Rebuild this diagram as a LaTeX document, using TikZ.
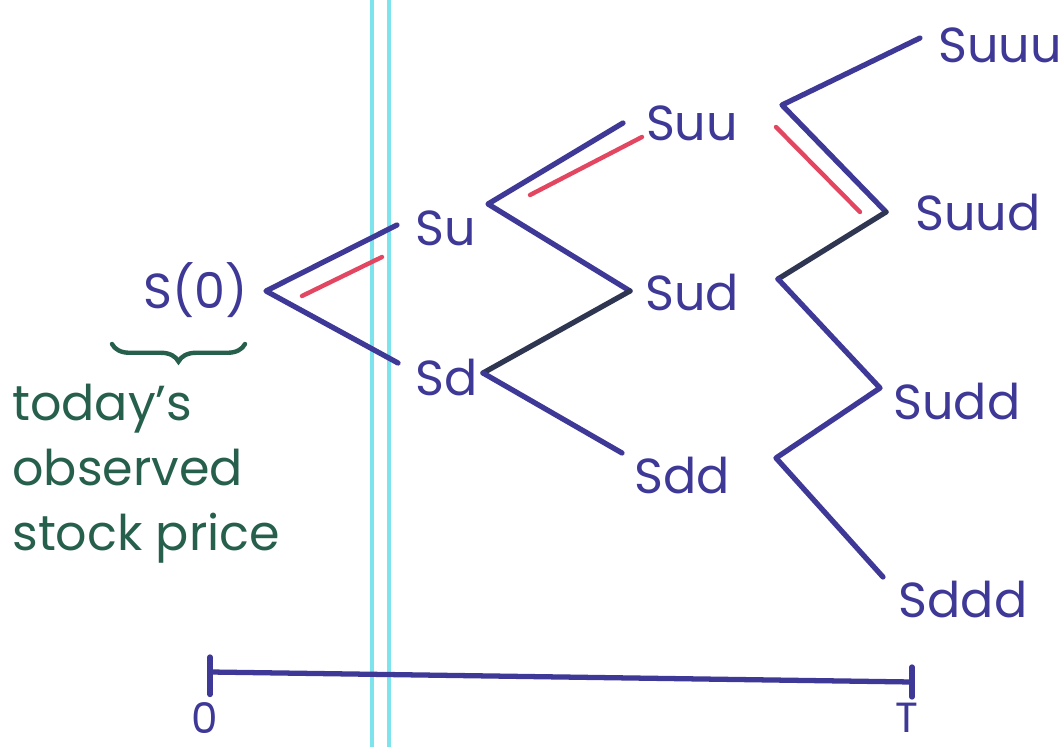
\documentclass[tikz,border=0pt]{standalone}
\usepackage{fontspec}
\setmainfont{Poppins}
\usepackage{xcolor}
\usetikzlibrary{positioning,decorations.pathreplacing}
\definecolor{ink}{RGB}{62,56,150}
\definecolor{inkdark}{RGB}{46,54,82}
\definecolor{marker}{RGB}{226,70,96}
\definecolor{note}{RGB}{38,96,76}
\definecolor{margin}{RGB}{125,228,238}

\begin{document}
\begin{tikzpicture}[x=0.02cm, y=-0.02cm,
    branch/.style={ink, line width=3pt, line cap=round, line join=round},
    darkbranch/.style={branch, inkdark},
    redmark/.style={marker, line width=2.5pt, line cap=round},
    price/.style={ink, font=\fontsize{28}{30}\selectfont, inner sep=0pt}]
    \useasboundingbox (0,0) rectangle (1063,747);

    % margin of the paper
    \draw[margin, line width=2pt] (372,0) -- (372,747);
    \draw[margin, line width=2pt] (389,0) -- (389,747);

    % prices
    \node[price] (S0) at (196,290) {S(0)};
    \node[price] (Su) at (446,228) {Su};
    \node[price] (Sd) at (447,378) {Sd};
    \node[price] (Suu) at (692,123) {Suu};
    \node[price] (Sud) at (692,293) {Sud};
    \node[price] (Sdd) at (682,476) {Sdd};
    \node[price] (Suuu) at (1000,45) {Suuu};
    \node[price] (Suud) at (978,213) {Suud};
    \node[price] (Sudd) at (957,402) {Sudd};
    \node[price] (Sddd) at (963,600) {Sddd};

    % branch points
    \coordinate (v0) at (266,291);
    \coordinate (u1) at (397,225);
    \coordinate (d1) at (398,363);
    \coordinate (vu) at (488,204);
    \coordinate (uu) at (623,123);
    \coordinate (ud) at (630,291);
    \coordinate (vd) at (483,373);
    \coordinate (dd) at (622,453);
    \coordinate (vuu) at (782,105);
    \coordinate (uuu) at (920,38);
    \coordinate (uud) at (886,212);
    \coordinate (vud) at (778,279);
    \coordinate (udd) at (880,388);
    \coordinate (vdd) at (776,458);
    \coordinate (ddd) at (883,577);

    % tree
    \draw[branch] (u1) -- (v0) -- (d1);
    \draw[branch] (uu) -- (vu) -- (ud);
    \draw[darkbranch] (ud) -- (vd);
    \draw[branch] (vd) -- (dd);
    \draw[branch] (uuu) -- (vuu) -- (uud);
    \draw[darkbranch] (uud) -- (vud);
    \draw[branch] (vud) -- (udd) -- (vdd) -- (ddd);

    % red path
    \draw[redmark] (302,296) -- (382,257);
    \draw[redmark] (530,195) -- (642,137);
    \draw[redmark] (776,127) -- (860,212);

    % note
    \coordinate (b1) at (245,344);
    \coordinate (b2) at (112,344);
    \draw[note, line width=2.5pt, line cap=round,
          decorate, decoration={brace, amplitude=10pt}] (b1) -- (b2);
    \node[note, anchor=north west, align=left, inner sep=0pt,
          font=\fontsize{28}{37}\selectfont] (today) at (12,384)
          {today's\\observed\\stock price};

    % time axis
    \coordinate (t0) at (210,672);
    \coordinate (tT) at (912,682);
    \draw[branch] (t0) -- (tT);
    \draw[branch] ([yshift=-0.45cm]t0) -- ([yshift=0.3cm]t0);
    \draw[branch] ([yshift=-0.3cm]tT) -- ([yshift=0.3cm]tT);
    \node[price, font=\fontsize{24}{26}\selectfont] (zero) at (205,718) {0};
    \node[price, font=\fontsize{24}{26}\selectfont] (T) at (907,718) {T};
\end{tikzpicture}
\end{document}
